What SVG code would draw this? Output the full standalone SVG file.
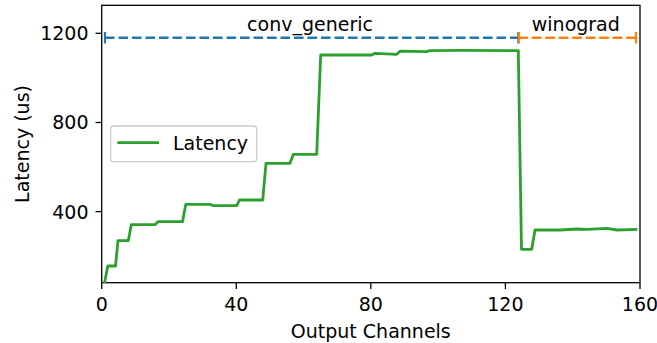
<svg xmlns="http://www.w3.org/2000/svg" width="657" height="343" viewBox="0 0 657 343">
<style>
text{font-family:"DejaVu Sans","Liberation Sans",sans-serif;font-size:19px;fill:#000}
.tick{stroke:#000;stroke-width:1.3}
.yl{text-anchor:end}
.xl{text-anchor:middle}
</style>
<rect x="0" y="0" width="657" height="343" fill="#fff"/>
<g id="axes">
<rect x="101.7" y="5.3" width="538.3" height="277.4" fill="none" stroke="#000" stroke-width="1.3"/>
<line class="tick" x1="95.5" y1="33.3" x2="101.7" y2="33.3"/>
<line class="tick" x1="95.5" y1="122.5" x2="101.7" y2="122.5"/>
<line class="tick" x1="95.5" y1="211.6" x2="101.7" y2="211.6"/>
<text class="yl" x="88.5" y="40.2">1200</text>
<text class="yl" x="88.5" y="129.4">800</text>
<text class="yl" x="88.5" y="218.5">400</text>
<line class="tick" x1="101.7" y1="282.7" x2="101.7" y2="289"/>
<line class="tick" x1="236.3" y1="282.7" x2="236.3" y2="289"/>
<line class="tick" x1="370.8" y1="282.7" x2="370.8" y2="289"/>
<line class="tick" x1="505.4" y1="282.7" x2="505.4" y2="289"/>
<line class="tick" x1="640" y1="282.7" x2="640" y2="289"/>
<text class="xl" x="101.7" y="311">0</text>
<text class="xl" x="236.3" y="311">40</text>
<text class="xl" x="370.8" y="311">80</text>
<text class="xl" x="505.4" y="311">120</text>
<text class="xl" x="640" y="311">160</text>
<text class="xl" x="370.8" y="337.5">Output Channels</text>
<text class="xl" transform="translate(28.5,144) rotate(-90)">Latency (us)</text>
</g>
<g id="connectors">
<g id="series-latency">
<polyline fill="none" stroke="#2ca02c" stroke-width="2.8" stroke-linejoin="round" points="104.5,283 107.8,266 115.5,266 118,240.7 128.3,240.7 131.3,224.7 155,224.7 158,221.7 182.5,221.7 185.8,204.3 210,204.3 213.3,205.7 236.7,205.7 239.5,200 262.7,200 266,163.3 290,163.3 293.3,154.3 316.7,154.3 320.7,55 371.7,55 375,53.3 396.7,54.3 400,51.2 426.7,51.7 430,50.6 460,50.4 518.3,50.6 521.5,249.3 531.7,249.3 535,230 560,230 577,229 587,229.3 607,228.3 617,230 637.3,229.3"/>
</g>
<g id="range-conv">
<line x1="105" y1="37.7" x2="518.3" y2="37.7" stroke="#1f77b4" stroke-width="2.6" stroke-dasharray="9.6 3.9"/>
<line x1="105" y1="32" x2="105" y2="43.4" stroke="#1f77b4" stroke-width="2.2"/>
<line x1="518.3" y1="32" x2="518.3" y2="43.4" stroke="#1f77b4" stroke-width="2.2"/>
</g>
<g id="range-wino">
<line x1="518.3" y1="37.7" x2="636" y2="37.7" stroke="#ff7f0e" stroke-width="2.6" stroke-dasharray="9.6 3.9"/>
<line x1="518.8" y1="32" x2="518.8" y2="43.4" stroke="#ff7f0e" stroke-width="2.2"/>
<line x1="636" y1="32" x2="636" y2="43.4" stroke="#ff7f0e" stroke-width="2.2"/>
</g>
</g>
<g id="label-conv"><text class="xl" x="310" y="30.5">conv_generic</text></g>
<g id="label-wino"><text class="xl" x="575.8" y="30.5">winograd</text></g>
<g id="legend">
<rect x="110.7" y="126" width="146" height="35.7" rx="3" fill="#fff" fill-opacity="0.8" stroke="#cccccc" stroke-width="1.3"/>
<line x1="117.3" y1="142.7" x2="159" y2="142.7" stroke="#2ca02c" stroke-width="2.8"/>
<text x="173" y="150">Latency</text>
</g>
</svg>
